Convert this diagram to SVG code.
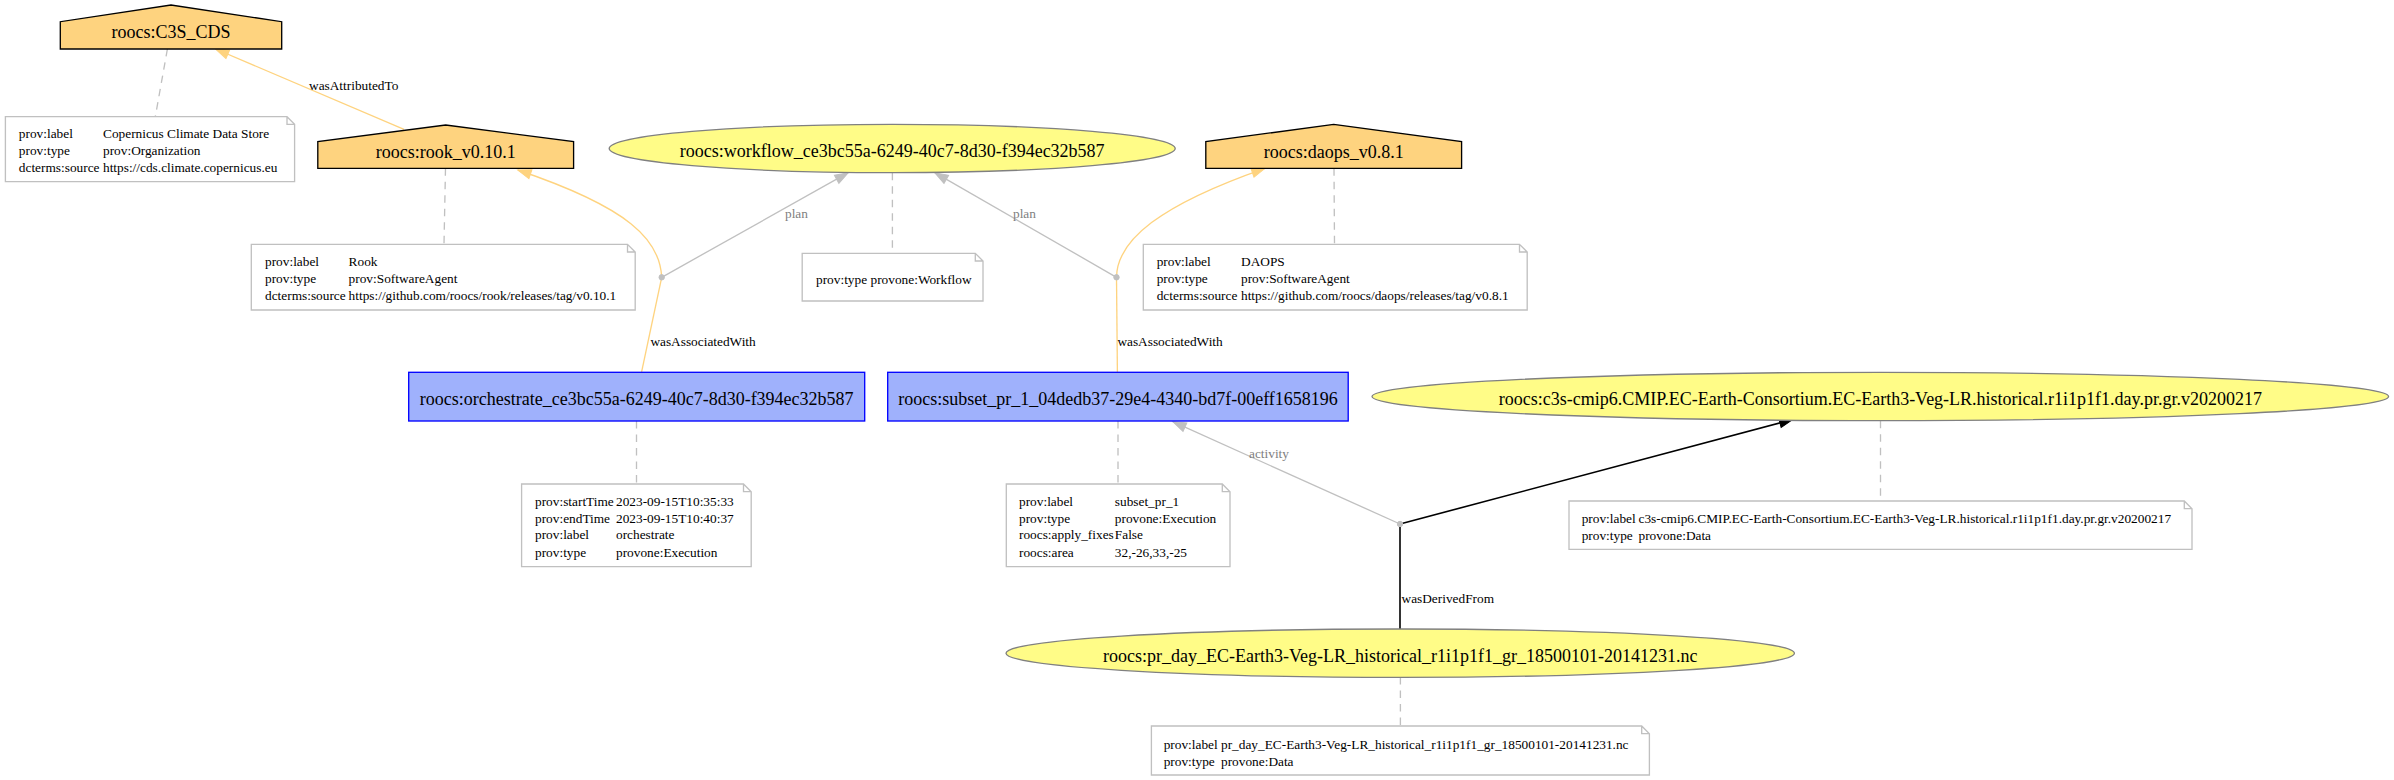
<svg xmlns="http://www.w3.org/2000/svg" width="2394" height="780" viewBox="0 0 2394 780">
<style>
  .nl { font-family: "Liberation Serif", "Times New Roman", serif; font-size: 18px; fill: #000; text-anchor: middle; }
  .sm { font-family: "Liberation Serif", "Times New Roman", serif; font-size: 13.33px; fill: #000; }
  .gl { fill: #808080; }
  .agent { fill: #FED37F; stroke: #000; stroke-width: 1.33; }
  .act { fill: #9FB1FC; stroke: #0000FF; stroke-width: 1.33; }
  .ent { fill: #FFFC87; stroke: #808080; stroke-width: 1.33; }
  .note { fill: #fff; stroke: #c0c0c0; stroke-width: 1.33; stroke-linejoin: miter; }
  .ann { fill: none; stroke: #c0c0c0; stroke-width: 1.33; stroke-dasharray: 7.5,6; }
  .eo { fill: none; stroke: #FED37F; stroke-width: 1.33; }
  .eg { fill: none; stroke: #c0c0c0; stroke-width: 1.33; }
  .eb { fill: none; stroke: #000; stroke-width: 1.6; }
  .pt { fill: #c0c0c0; stroke: #c0c0c0; stroke-width: 1; }
</style>
<defs>
  <marker id="arrO" markerUnits="userSpaceOnUse" viewBox="0 0 14 10" markerWidth="14" markerHeight="10" refX="13.3" refY="4.67" orient="auto" overflow="visible">
    <path d="M0,0 L13.3,4.67 L0,9.33 Z" fill="#FED37F" stroke="#FED37F" stroke-width="1"/>
  </marker>
  <marker id="arrG" markerUnits="userSpaceOnUse" viewBox="0 0 14 10" markerWidth="14" markerHeight="10" refX="13.3" refY="4.67" orient="auto" overflow="visible">
    <path d="M0,0 L13.3,4.67 L0,9.33 Z" fill="#c0c0c0" stroke="#c0c0c0" stroke-width="1"/>
  </marker>
  <marker id="arrB" markerUnits="userSpaceOnUse" viewBox="0 0 14 10" markerWidth="14" markerHeight="10" refX="13.3" refY="4.67" orient="auto" overflow="visible">
    <path d="M0,0 L13.3,4.67 L0,9.33 Z" fill="#000" stroke="#000" stroke-width="1"/>
  </marker>
</defs>
<rect x="0" y="0" width="2394" height="780" fill="#fff"/>

<g id="connectors">
  <!-- annotation links -->
  <path class="ann" d="M167.4,49 L155.3,116.7"/>
  <path class="ann" d="M445.5,168.3 L444,244.3"/>
  <path class="ann" d="M892.4,172.7 L892.4,253.3"/>
  <path class="ann" d="M1334,168.3 L1334.5,244.3"/>
  <path class="ann" d="M636.5,421 L636.5,484"/>
  <path class="ann" d="M1118,421 L1118,484"/>
  <path class="ann" d="M1880.5,420.7 L1880.5,501"/>
  <path class="ann" d="M1400.4,677 L1400.4,726"/>

  <!-- wasAttributedTo -->
  <path class="eo" d="M404,129.3 L215.6,49" marker-end="url(#arrO)"/>
  <text class="sm" x="309" y="90">wasAttributedTo</text>

  <!-- orchestrate wasAssociatedWith rook (plan workflow) -->
  <path class="eo" d="M641.5,372.3 L661.7,277.3"/>
  <text class="sm" x="650.4" y="346">wasAssociatedWith</text>
  <path class="eo" d="M661.7,277.3 C660,240 630,208 517.8,170" marker-end="url(#arrO)"/>
  <path class="eg" d="M661.7,277.3 L848.2,172.7" marker-end="url(#arrG)"/>
  <text class="sm gl" x="785" y="218">plan</text>

  <!-- subset wasAssociatedWith daops (plan workflow) -->
  <path class="eo" d="M1117.4,372.3 L1116.5,277.3"/>
  <text class="sm" x="1117.4" y="346">wasAssociatedWith</text>
  <path class="eo" d="M1116.5,277.3 C1117,240 1160,205 1265,168.3" marker-end="url(#arrO)"/>
  <path class="eg" d="M1116.5,277.3 L934.8,172.7" marker-end="url(#arrG)"/>
  <text class="sm gl" x="1013" y="218">plan</text>

  <!-- wasDerivedFrom (activity subset) -->
  <path class="eb" d="M1400,629.5 L1400,524"/>
  <text class="sm" x="1401.5" y="603">wasDerivedFrom</text>
  <path class="eb" d="M1400,524 L1792.8,419.5" marker-end="url(#arrB)"/>
  <path class="eg" d="M1400,524 L1172.8,421.7" marker-end="url(#arrG)"/>
  <text class="sm gl" x="1249" y="457.5">activity</text>

  <!-- blank points -->
  <circle class="pt" cx="661.7" cy="277.3" r="2.7"/>
  <circle class="pt" cx="1116.5" cy="277.3" r="2.7"/>
  <circle class="pt" cx="1400" cy="524" r="2.7"/>
</g>

<g id="node-c3s-cds">
  <polygon class="agent" points="60.3,49 281.7,49 281.7,21.7 171,5 60.3,21.7"/>
  <text class="nl" x="171" y="38">roocs:C3S_CDS</text>
</g>
<g id="note-c3s-cds">
  <path class="note" d="M5.4,116.7 L287,116.7 L294.6,124.3 L294.6,181.7 L5.4,181.7 Z M287,116.7 L287,124.3 L294.6,124.3"/>
  <text class="sm" x="18.8" y="137.5">prov:label</text><text class="sm" x="103" y="137.5">Copernicus Climate Data Store</text>
  <text class="sm" x="18.8" y="154.5">prov:type</text><text class="sm" x="103" y="154.5">prov:Organization</text>
  <text class="sm" x="18.8" y="172">dcterms:source</text><text class="sm" x="103" y="172">https://cds.climate.copernicus.eu</text>
</g>

<g id="node-rook">
  <polygon class="agent" points="317.8,168.3 573.6,168.3 573.6,141.7 445.7,125 317.8,141.7"/>
  <text class="nl" x="445.7" y="158">roocs:rook_v0.10.1</text>
</g>
<g id="note-rook">
  <path class="note" d="M251.3,244.3 L627.5,244.3 L635.2,252 L635.2,310 L251.3,310 Z M627.5,244.3 L627.5,252 L635.2,252"/>
  <text class="sm" x="265" y="265.5">prov:label</text><text class="sm" x="348.6" y="265.5">Rook</text>
  <text class="sm" x="265" y="283">prov:type</text><text class="sm" x="348.6" y="283">prov:SoftwareAgent</text>
  <text class="sm" x="265" y="300">dcterms:source</text><text class="sm" x="348.6" y="300">https://github.com/roocs/rook/releases/tag/v0.10.1</text>
</g>

<g id="node-workflow">
  <ellipse class="ent" cx="892.2" cy="148.5" rx="283" ry="24.2"/>
  <text class="nl" x="892.2" y="157.3">roocs:workflow_ce3bc55a-6249-40c7-8d30-f394ec32b587</text>
</g>
<g id="note-workflow">
  <path class="note" d="M802.2,253.3 L975.3,253.3 L983,261 L983,301 L802.2,301 Z M975.3,253.3 L975.3,261 L983,261"/>
  <text class="sm" x="816" y="283.5">prov:type</text><text class="sm" x="870.5" y="283.5">provone:Workflow</text>
</g>

<g id="node-daops">
  <polygon class="agent" points="1205.8,168.3 1461.6,168.3 1461.6,141.7 1333.7,124.3 1205.8,141.7"/>
  <text class="nl" x="1333.7" y="157.5">roocs:daops_v0.8.1</text>
</g>
<g id="note-daops">
  <path class="note" d="M1143.3,244.3 L1519.5,244.3 L1527.2,252 L1527.2,310 L1143.3,310 Z M1519.5,244.3 L1519.5,252 L1527.2,252"/>
  <text class="sm" x="1156.7" y="265.5">prov:label</text><text class="sm" x="1241" y="265.5">DAOPS</text>
  <text class="sm" x="1156.7" y="283">prov:type</text><text class="sm" x="1241" y="283">prov:SoftwareAgent</text>
  <text class="sm" x="1156.7" y="300">dcterms:source</text><text class="sm" x="1241" y="300">https://github.com/roocs/daops/releases/tag/v0.8.1</text>
</g>

<g id="node-orchestrate">
  <rect class="act" x="408.7" y="372.3" width="456" height="48.7"/>
  <text class="nl" x="636.7" y="405">roocs:orchestrate_ce3bc55a-6249-40c7-8d30-f394ec32b587</text>
</g>
<g id="note-orchestrate">
  <path class="note" d="M521.6,484 L743.5,484 L751.2,491.7 L751.2,566.7 L521.6,566.7 Z M743.5,484 L743.5,491.7 L751.2,491.7"/>
  <text class="sm" x="535" y="506">prov:startTime</text><text class="sm" x="616" y="506">2023-09-15T10:35:33</text>
  <text class="sm" x="535" y="522.7">prov:endTime</text><text class="sm" x="616" y="522.7">2023-09-15T10:40:37</text>
  <text class="sm" x="535" y="539.3">prov:label</text><text class="sm" x="616" y="539.3">orchestrate</text>
  <text class="sm" x="535" y="557">prov:type</text><text class="sm" x="616" y="557">provone:Execution</text>
</g>

<g id="node-subset">
  <rect class="act" x="887.7" y="372.3" width="460.5" height="48.7"/>
  <text class="nl" x="1118" y="405">roocs:subset_pr_1_04dedb37-29e4-4340-bd7f-00eff1658196</text>
</g>
<g id="note-subset">
  <path class="note" d="M1006.3,484 L1222.3,484 L1230,491.7 L1230,566.7 L1006.3,566.7 Z M1222.3,484 L1222.3,491.7 L1230,491.7"/>
  <text class="sm" x="1019" y="506">prov:label</text><text class="sm" x="1114.8" y="506">subset_pr_1</text>
  <text class="sm" x="1019" y="522.7">prov:type</text><text class="sm" x="1114.8" y="522.7">provone:Execution</text>
  <text class="sm" x="1019" y="539.3">roocs:apply_fixes</text><text class="sm" x="1114.8" y="539.3">False</text>
  <text class="sm" x="1019" y="557">roocs:area</text><text class="sm" x="1114.8" y="557">32,-26,33,-25</text>
</g>

<g id="node-c3s-dataset">
  <ellipse class="ent" cx="1880.3" cy="396.5" rx="508.3" ry="24.2"/>
  <text class="nl" x="1880.3" y="405.3">roocs:c3s-cmip6.CMIP.EC-Earth-Consortium.EC-Earth3-Veg-LR.historical.r1i1p1f1.day.pr.gr.v20200217</text>
</g>
<g id="note-c3s-dataset">
  <path class="note" d="M1569,501 L2184.3,501 L2192,508.7 L2192,549.3 L1569,549.3 Z M2184.3,501 L2184.3,508.7 L2192,508.7"/>
  <text class="sm" x="1581.7" y="522.7">prov:label</text><text class="sm" x="1638.5" y="522.7">c3s-cmip6.CMIP.EC-Earth-Consortium.EC-Earth3-Veg-LR.historical.r1i1p1f1.day.pr.gr.v20200217</text>
  <text class="sm" x="1581.7" y="540">prov:type</text><text class="sm" x="1638.5" y="540">provone:Data</text>
</g>

<g id="node-pr-day">
  <ellipse class="ent" cx="1400.2" cy="653.2" rx="394.2" ry="24.2"/>
  <text class="nl" x="1400.2" y="661.8">roocs:pr_day_EC-Earth3-Veg-LR_historical_r1i1p1f1_gr_18500101-20141231.nc</text>
</g>
<g id="note-pr-day">
  <path class="note" d="M1151.4,726 L1641.7,726 L1649.4,733.7 L1649.4,775 L1151.4,775 Z M1641.7,726 L1641.7,733.7 L1649.4,733.7"/>
  <text class="sm" x="1163.7" y="748.5">prov:label</text><text class="sm" x="1221" y="748.5">pr_day_EC-Earth3-Veg-LR_historical_r1i1p1f1_gr_18500101-20141231.nc</text>
  <text class="sm" x="1163.7" y="766">prov:type</text><text class="sm" x="1221" y="766">provone:Data</text>
</g>
</svg>
